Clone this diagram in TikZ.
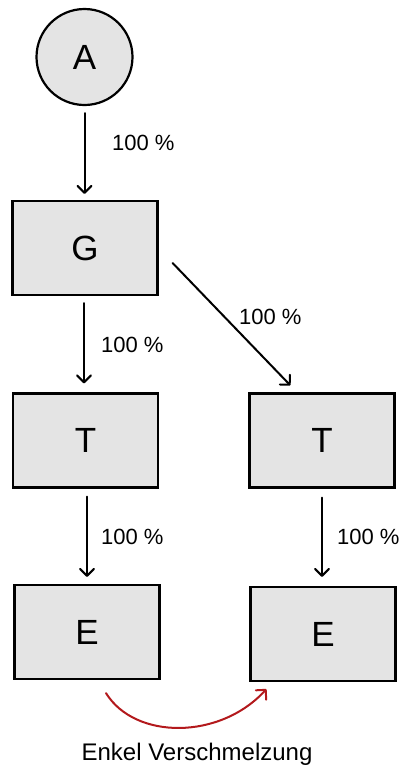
\documentclass[tikz,border=0pt]{standalone}
\usepackage{fontspec}
\setmainfont{Liberation Sans}
\usetikzlibrary{arrows.meta}
\definecolor{boxfill}{HTML}{E4E4E4}
\definecolor{linkred}{HTML}{B3191C}
\begin{document}
\begin{tikzpicture}[x=1pt,y=-1pt,
  box/.style={draw=black, line width=2.2pt, fill=boxfill, minimum width=145pt,
    minimum height=94pt, inner sep=0pt, font=\fontsize{35}{35}\selectfont},
  root/.style={circle, draw=black, line width=2.2pt, fill=boxfill,
    minimum size=96pt, inner sep=0pt, font=\fontsize{35}{35}\selectfont},
  flow/.style={draw=black, line width=2pt, line cap=round,
    -{Straight Barb[length=7pt,width=14pt,line width=2pt,round]}},
  merge/.style={draw=linkred, line width=2pt, line cap=round,
    -{Straight Barb[length=7pt,width=14pt,line width=2pt,round]}},
  pct/.style={anchor=west, inner sep=0pt, font=\fontsize{22}{22}\selectfont},
  caption/.style={anchor=base, inner sep=0pt, font=\fontsize{24}{24}\selectfont}]
  \useasboundingbox (0,0) rectangle (403,766);

  % nodes
  \node[root] (A) at (84.5,57) {A};
  \node[box] (G) at (85,248) {G};
  \node[box] (T1) at (85.5,440.5) {T};
  \node[box] (T2) at (322,440.5) {T};
  \node[box] (E1) at (87,632) {E};
  \node[box] (E2) at (323,634) {E};

  % vertical flows
  \draw[flow, shorten <=7pt, shorten >=6pt] (A.south) -- (A.south |- G.north);
  \draw[flow, shorten <=7pt, shorten >=9pt] ([xshift=-1pt]G.south) -- ([xshift=-1pt]G.south |- T1.north);
  \draw[flow, shorten <=8pt, shorten >=7pt] ([xshift=1.5pt]T1.south) -- ([xshift=1.5pt]T1.south |- E1.north);
  \draw[flow, shorten <=9pt, shorten >=9pt] (T2.south) -- (T2.south |- E2.north);

  % diagonal flow from G to the right-hand T
  \coordinate (gOut) at ([xshift=14pt,yshift=-15pt]G.east);
  \coordinate (tIn) at ([xshift=42pt,yshift=7pt]T2.north west);
  \draw[flow] (gOut) -- (tIn);

  % percentages
  \node[pct] (p1) at (112,143) {100 \%};
  \node[pct] (p2) at (101,345) {100 \%};
  \node[pct] (p3) at (239,317) {100 \%};
  \node[pct] (p4) at (101,537) {100 \%};
  \node[pct] (p5) at (337,537) {100 \%};

  % merge arc between the two E boxes
  \coordinate (mStart) at ([xshift=19pt,yshift=-13pt]E1.south);
  \coordinate (mEnd) at ([xshift=17pt,yshift=-7pt]E2.south west);
  \draw[merge] (mStart) .. controls (135,740) and (220,740) .. (mEnd);
  \node[caption] (cap) at (197,760.5) {Enkel Verschmelzung};
\end{tikzpicture}
\end{document}
